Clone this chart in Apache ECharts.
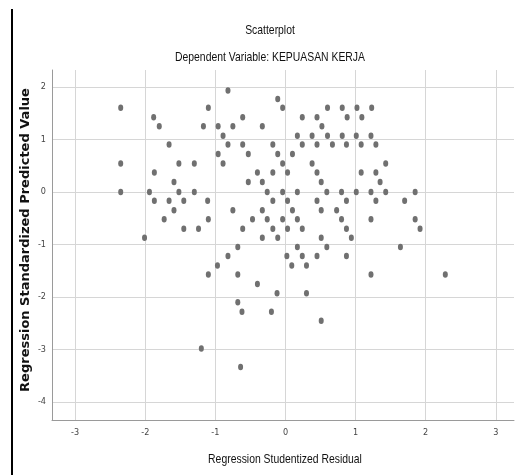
<!DOCTYPE html>
<html><head><meta charset="utf-8">
<script src="https://cdn.jsdelivr.net/npm/echarts@6/dist/echarts.min.js"></script>
<style>html,body{margin:0;padding:0;background:#fff}#c{width:517px;height:475px}</style>
</head><body><div id="c"></div>
<script>
// Regression Standardized Predicted Value levels (rows) and the Studentized Residuals on each row
const predictedLevels = [1.93, 1.77, 1.60, 1.42, 1.25, 1.07, 0.90, 0.72, 0.54, 0.37, 0.19, 0.00,
  -0.17, -0.35, -0.52, -0.70, -0.87, -1.05, -1.22, -1.40, -1.57, -1.75, -1.93, -2.10, -2.28, -2.45, -2.98, -3.33];
const residualsByLevel = [
  [-0.82],
  [-0.11],
  [-2.35, -1.10, -0.04, 0.60, 0.81, 1.02, 1.23],
  [-1.88, -0.61, 0.24, 0.45, 0.88, 1.09],
  [-1.80, -1.17, -0.96, -0.75, -0.33, 0.52],
  [-0.89, 0.17, 0.38, 0.60, 0.81, 1.01, 1.22],
  [-1.66, -0.82, -0.61, -0.18, 0.24, 0.45, 0.67, 0.87, 1.08, 1.29],
  [-0.96, -0.53, -0.11, 0.10],
  [-2.35, -1.52, -1.30, -0.89, -0.04, 0.38, 1.43],
  [-1.87, -0.40, -0.18, 0.03, 0.45, 1.08, 1.29],
  [-1.59, -0.53, -0.33, 0.51, 1.35],
  [-2.35, -1.94, -1.52, -1.30, -0.26, -0.04, 0.17, 0.59, 0.80, 1.01, 1.22, 1.43, 1.85],
  [-1.87, -1.66, -1.45, -1.11, -0.18, 0.03, 0.45, 0.87, 1.29, 1.70],
  [-1.59, -0.75, -0.33, 0.10, 0.51, 0.73],
  [-1.73, -1.10, -0.47, -0.26, -0.04, 0.17, 0.80, 1.22, 1.85],
  [-1.45, -1.24, -0.61, -0.18, 0.03, 0.24, 0.87, 1.92],
  [-2.01, -0.33, -0.11, 0.51, 0.94],
  [-0.68, 0.17, 0.59, 1.64],
  [-0.82, 0.02, 0.24, 0.45, 0.87],
  [-0.97, 0.09, 0.30],
  [-1.10, -0.68, 1.22, 2.28],
  [-0.40],
  [-0.12, 0.30],
  [-0.68],
  [-0.62, -0.20],
  [0.51],
  [-1.20],
  [-0.64]
];
const xTickLabels = ['-3', '-2', '-1', '0', '1', '2', '3'];
const yTickLabels = ['2', '1', '0', '-1', '-2', '-3', '-4'];
const chartTitle = 'Scatterplot';
const chartSubtitle = 'Dependent Variable: KEPUASAN KERJA';
const xTitle = 'Regression Studentized Residual';
const yTitle = 'Regression Standardized Predicted Value';

const points = [];
predictedLevels.forEach((y, i) => residualsByLevel[i].forEach(x => points.push([x, y])));

const NARROW = '"DejaVu Sans Condensed", "Liberation Sans Narrow", sans-serif';
const TITLEFONT = '13px "Liberation Sans", Arial, sans-serif';
const chart = echarts.init(document.getElementById('c'), null, {renderer: 'canvas'});
const intLabel = (list) => (v) => {
  const r = Math.round(v);
  return (Math.abs(v - r) < 1e-6 && list.indexOf(String(r)) >= 0) ? String(r) : '';
};
chart.setOption({
  animation: false,
  backgroundColor: '#fff',
  grid: {left: 52, right: 0, top: 70, bottom: 55, containLabel: false},
  xAxis: {
    type: 'value', min: -3.33, max: 3.26, minInterval: 1, maxInterval: 1,
    axisLine: {show: true, onZero: false, lineStyle: {color: '#9a9a9a', width: 1}},
    axisTick: {show: false},
    axisLabel: {color: '#444', fontSize: 9, fontFamily: NARROW, margin: 8, formatter: intLabel(xTickLabels)},
    splitLine: {show: true, showMinLine: false, showMaxLine: false, lineStyle: {color: '#d6d6d6', width: 1}}
  },
  yAxis: {
    type: 'value', min: -4.34, max: 2.32, minInterval: 1, maxInterval: 1,
    axisLine: {show: true, onZero: false, lineStyle: {color: '#9a9a9a', width: 1}},
    axisTick: {show: false},
    axisLabel: {color: '#444', fontSize: 9, fontFamily: NARROW, margin: 6, formatter: intLabel(yTickLabels)},
    splitLine: {show: true, showMinLine: false, showMaxLine: false, lineStyle: {color: '#d6d6d6', width: 1}}
  },
  series: [{
    type: 'scatter',
    data: points,
    symbol: 'circle',
    symbolSize: [5, 6.5],
    itemStyle: {color: '#707070', opacity: 1},
    silent: true
  }],
  graphic: [
    {type: 'line', shape: {x1: 12, y1: 9, x2: 12, y2: 475}, style: {stroke: '#000', lineWidth: 2}},
    {type: 'text', x: 270, y: 30, scaleX: 0.8, style: {text: chartTitle, font: TITLEFONT, fill: '#111', align: 'center', verticalAlign: 'middle'}},
    {type: 'text', x: 270, y: 57, scaleX: 0.8, style: {text: chartSubtitle, font: TITLEFONT, fill: '#111', align: 'center', verticalAlign: 'middle'}},
    {type: 'text', x: 285, y: 459, scaleX: 0.8, style: {text: xTitle, font: TITLEFONT, fill: '#111', align: 'center', verticalAlign: 'middle'}},
    {type: 'text', x: 26, y: 240, rotation: Math.PI / 2, style: {text: yTitle, font: 'bold 13px "DejaVu Sans", sans-serif', fill: '#111', align: 'center', verticalAlign: 'middle'}}
  ]
});
</script></body></html>
